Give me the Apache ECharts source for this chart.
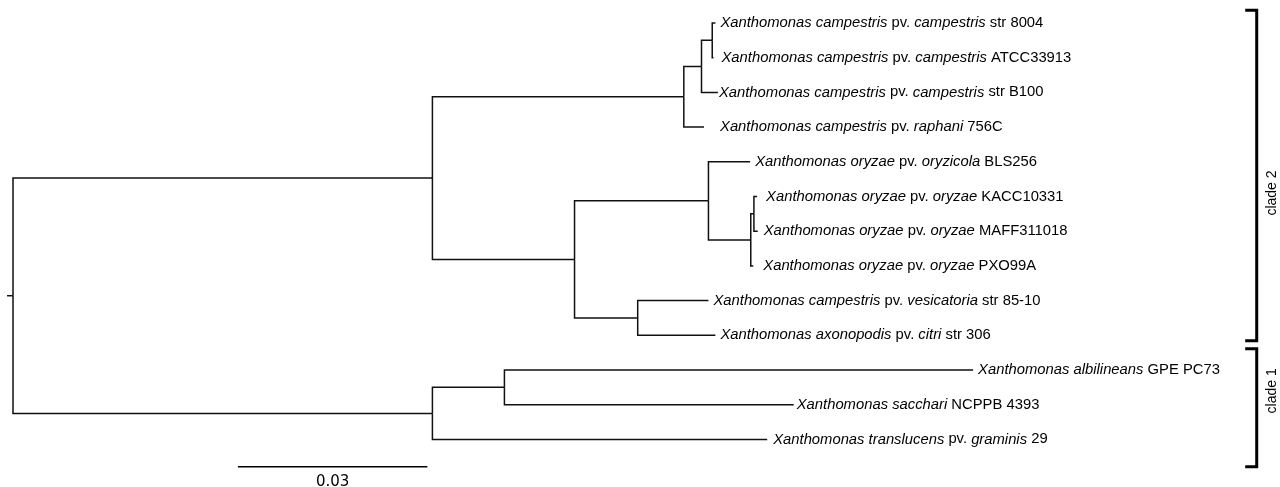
<!DOCTYPE html>
<html>
<head>
<meta charset="utf-8">
<script src="https://cdn.jsdelivr.net/npm/echarts@6/dist/echarts.min.js"></script>
<style>
  html, body { margin: 0; padding: 0; background: #fff; }
  #main { width: 1280px; height: 487px; }
</style>
</head>
<body>
<div id="main"></div>
<script>
// tip labels, top to bottom (italic parts in {i|...})
var tipLabels = [
  '{i|Xanthomonas campestris} pv. {i|campestris} str 8004',
  '{i|Xanthomonas campestris} pv. {i|campestris} ATCC33913',
  '{i|Xanthomonas campestris} pv. {i|campestris} str B100',
  '{i|Xanthomonas campestris} pv. {i|raphani} 756C',
  '{i|Xanthomonas oryzae} pv. {i|oryzicola} BLS256',
  '{i|Xanthomonas oryzae} pv. {i|oryzae} KACC10331',
  '{i|Xanthomonas oryzae} pv. {i|oryzae} MAFF311018',
  '{i|Xanthomonas oryzae} pv. {i|oryzae} PXO99A',
  '{i|Xanthomonas campestris} pv. {i|vesicatoria} str 85-10',
  '{i|Xanthomonas axonopodis} pv. {i|citri} str 306',
  '{i|Xanthomonas albilineans} GPE PC73',
  '{i|Xanthomonas sacchari} NCPPB 4393',
  '{i|Xanthomonas translucens} pv. {i|graminis} 29'
];
// distance from root (substitutions/site) of each tip
var tipDepth = [0.1112, 0.1109, 0.1116, 0.1094, 0.1167, 0.1178, 0.1179,
                0.1172, 0.1101, 0.1112, 0.1520, 0.1236, 0.1194];

// internal nodes: id, distance from root, children (number = tip index)
var nodeIds = ['root', 'A', 'B', 'C', 'D', 'E', 'F', 'G', 'H', 'I', 'J', 'K'];
var nodeDepth = [0, 0.0664, 0.0664, 0.1062, 0.1090, 0.1107, 0.0889,
                 0.1101, 0.1168, 0.1173, 0.0989, 0.0778];
var nodeChildren = [
  ['A', 'B'], ['C', 'F'], ['K', 12], ['D', 3], ['E', 2], [0, 1],
  ['G', 'J'], [4, 'H'], ['I', 7], [5, 6], [8, 9], [10, 11]
];
var rootEdge = 0.00095;

// clades: name, start / end of bracket (tip units), label centre (tip units)
var cladeNames = ['clade 2', 'clade 1'];
var cladeStart = [-0.37, 9.39];
var cladeEnd = [9.16, 12.79];
var cladeLabelAt = [4.9, 10.6];
var cladeDepth = 0.1969;

// scale bar
var scaleStart = 0.0356;
var scaleLength = 0.03;
var scaleLabel = '0.03';
var scaleRow = 12.79;

// label nudges (px) between branch end and text
var labelGap = [5, 8, 1, 16, 5, 9, 6, 10, 5, 5, 5, 3, 6];

function depthOf(id) {
  return typeof id === 'number' ? tipDepth[id] : nodeDepth[nodeIds.indexOf(id)];
}
function rowOf(id) {
  if (typeof id === 'number') return id;
  var ch = nodeChildren[nodeIds.indexOf(id)];
  return (rowOf(ch[0]) + rowOf(ch[ch.length - 1])) / 2;
}

var edges = [];
nodeIds.forEach(function (id, k) {
  nodeChildren[k].forEach(function (c) {
    edges.push([nodeDepth[k], rowOf(id), depthOf(c), rowOf(c)]);
  });
});
edges.push([-rootEdge, rowOf('root'), 0, rowOf('root')]);

var tipData = tipDepth.map(function (d, i) { return [d, i, labelGap[i]]; });
var cladeData = cladeNames.map(function (n, i) {
  return [cladeDepth, cladeStart[i], cladeEnd[i], cladeLabelAt[i]];
});

var font = '"Liberation Sans", Arial, Helvetica, sans-serif';
var chart = echarts.init(document.getElementById('main'));

chart.setOption({
  animation: false,
  grid: { left: 13, top: 23, width: 1263.3, height: 416.4 },
  xAxis: { type: 'value', min: 0, max: 0.2, show: false },
  yAxis: { type: 'value', min: 0, max: 12, inverse: true, show: false },
  series: [
    {
      // branches
      type: 'custom',
      clip: false,
      silent: true,
      data: edges,
      renderItem: function (params, api) {
        var p = api.coord([api.value(0), api.value(1)]);
        var c = api.coord([api.value(2), api.value(3)]);
        return {
          type: 'polyline',
          shape: { points: [p, [p[0], c[1]], c] },
          style: { stroke: '#111', lineWidth: 1.5, fill: null }
        };
      }
    },
    {
      // tip labels
      type: 'custom',
      clip: false,
      silent: true,
      data: tipData,
      renderItem: function (params, api) {
        var p = api.coord([api.value(0), api.value(1)]);
        return {
          type: 'text',
          x: p[0] + api.value(2),
          y: p[1],
          style: {
            text: tipLabels[params.dataIndex],
            fontSize: 14.8,
            fontFamily: font,
            fill: '#000',
            align: 'left',
            verticalAlign: 'middle',
            rich: {
              i: { fontStyle: 'italic', fontSize: 14.8, fontFamily: font, fill: '#000' }
            }
          }
        };
      }
    },
    {
      // clade brackets
      type: 'custom',
      clip: false,
      silent: true,
      data: cladeData,
      renderItem: function (params, api) {
        var top = api.coord([api.value(0), api.value(1)]);
        var bot = api.coord([api.value(0), api.value(2)]);
        var mid = api.coord([api.value(0), api.value(3)]);
        return {
          type: 'group',
          children: [
            {
              type: 'polyline',
              shape: { points: [[top[0] - 11.5, top[1]], top, bot, [bot[0] - 11.5, bot[1]]] },
              style: { stroke: '#000', lineWidth: 3, fill: null }
            },
            {
              type: 'text',
              x: mid[0] + 15,
              y: mid[1],
              rotation: Math.PI / 2,
              style: {
                text: cladeNames[params.dataIndex],
                fontSize: 14,
                fontFamily: font,
                fill: '#000',
                align: 'center',
                verticalAlign: 'middle'
              }
            }
          ]
        };
      }
    },
    {
      // scale bar
      type: 'custom',
      clip: false,
      silent: true,
      data: [[scaleStart, scaleRow, scaleLength]],
      renderItem: function (params, api) {
        var a = api.coord([api.value(0), api.value(1)]);
        var b = api.coord([api.value(0) + api.value(2), api.value(1)]);
        return {
          type: 'group',
          children: [
            {
              type: 'line',
              shape: { x1: a[0], y1: a[1], x2: b[0], y2: b[1] },
              style: { stroke: '#000', lineWidth: 1.6 }
            },
            {
              type: 'text',
              x: (a[0] + b[0]) / 2,
              y: a[1] + 15,
              style: {
                text: scaleLabel,
                fontSize: 15,
                fontFamily: '"DejaVu Sans", sans-serif',
                fill: '#000',
                align: 'center',
                verticalAlign: 'middle'
              }
            }
          ]
        };
      }
    }
  ]
});
</script>
</body>
</html>
